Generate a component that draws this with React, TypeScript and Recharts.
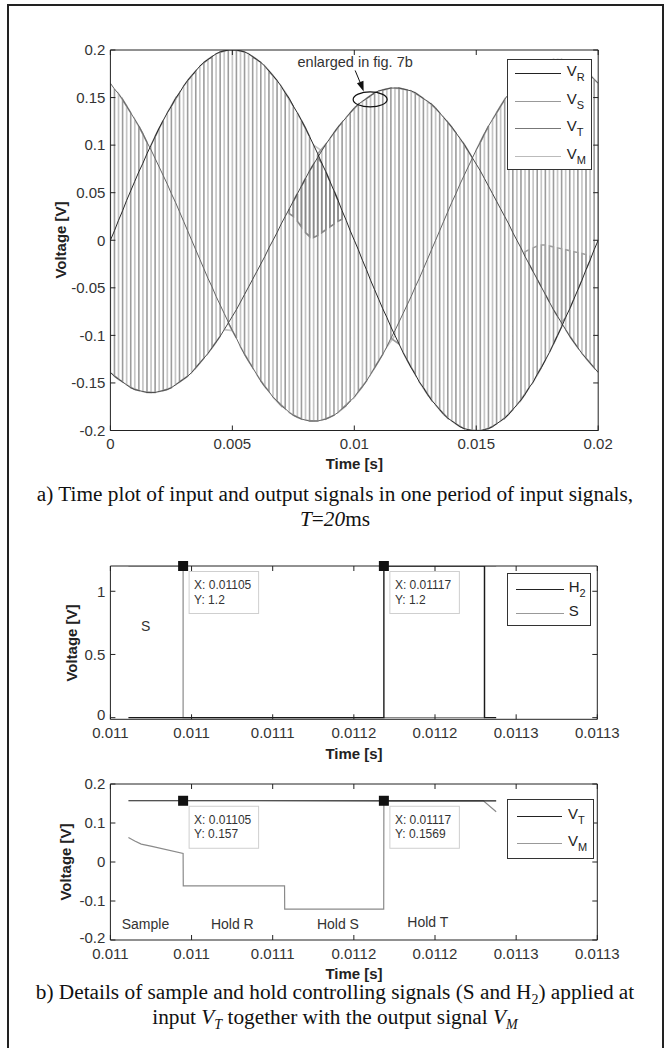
import React from 'react'
import { LineChart, Line, XAxis, YAxis, ReferenceDot } from 'recharts'

const SANS = '"Liberation Sans", Arial, Helvetica, sans-serif'
const SERIF = '"Liberation Serif", "Times New Roman", serif'
const AXIS = '#222'
const TICK_LEN = 5

// ---------- fig. a : one period of the three inputs (sampled every 3 deg) ----------
const SAMPLE_STEP = 0.02 / 120

const V_R = [
  0, 0.010, 0.021, 0.031, 0.042, 0.052, 0.062, 0.072, 0.081, 0.091, 0.100, 0.109, 0.118, 0.126, 0.134, 0.141,
  0.149, 0.155, 0.162, 0.168, 0.173, 0.178, 0.183, 0.187, 0.190, 0.193, 0.196, 0.198, 0.199, 0.200, 0.200,
  0.200, 0.199, 0.198, 0.196, 0.193, 0.190, 0.187, 0.183, 0.178, 0.173, 0.168, 0.162, 0.155, 0.149, 0.141,
  0.134, 0.126, 0.118, 0.109, 0.100, 0.091, 0.081, 0.072, 0.062, 0.052, 0.042, 0.031, 0.021, 0.010, 0,
  -0.010, -0.021, -0.031, -0.042, -0.052, -0.062, -0.072, -0.081, -0.091, -0.100, -0.109, -0.118, -0.126, -0.134, -0.141,
  -0.149, -0.155, -0.162, -0.168, -0.173, -0.178, -0.183, -0.187, -0.190, -0.193, -0.196, -0.198, -0.199, -0.200, -0.200,
  -0.200, -0.199, -0.198, -0.196, -0.193, -0.190, -0.187, -0.183, -0.178, -0.173, -0.168, -0.162, -0.155, -0.149, -0.141,
  -0.134, -0.126, -0.118, -0.109, -0.100, -0.091, -0.081, -0.072, -0.062, -0.052, -0.042, -0.031, -0.021, -0.010, 0,
]

const V_S = [
  0.165, 0.159, 0.154, 0.148, 0.141, 0.134, 0.127, 0.120, 0.112, 0.103, 0.095, 0.086, 0.077, 0.068, 0.059, 0.049,
  0.040, 0.030, 0.020, 0.010, 0,
  -0.010, -0.020, -0.030, -0.040, -0.049, -0.059, -0.068, -0.077, -0.086, -0.095, -0.103, -0.112, -0.120, -0.127, -0.134,
  -0.141, -0.148, -0.154, -0.159, -0.165, -0.169, -0.174, -0.177, -0.181, -0.184, -0.186, -0.188, -0.189, -0.190, -0.190,
  -0.190, -0.189, -0.188, -0.186, -0.184, -0.181, -0.177, -0.174, -0.169, -0.165, -0.159, -0.154, -0.148, -0.141, -0.134,
  -0.127, -0.120, -0.112, -0.103, -0.095, -0.086, -0.077, -0.068, -0.059, -0.049, -0.040, -0.030, -0.020, -0.010, 0,
  0.010, 0.020, 0.030, 0.040, 0.049, 0.059, 0.068, 0.077, 0.086, 0.095, 0.103, 0.112, 0.120, 0.127, 0.134,
  0.141, 0.148, 0.154, 0.159, 0.165, 0.169, 0.174, 0.177, 0.181, 0.184, 0.186, 0.188, 0.189, 0.190, 0.190,
  0.190, 0.189, 0.188, 0.186, 0.184, 0.181, 0.177, 0.174, 0.169, 0.165,
]

const V_T = [
  -0.139, -0.143, -0.146, -0.149, -0.152, -0.155, -0.157, -0.158, -0.159, -0.160, -0.160,
  -0.160, -0.159, -0.158, -0.157, -0.155, -0.152, -0.149, -0.146, -0.143, -0.139, -0.134, -0.129, -0.124, -0.119, -0.113,
  -0.107, -0.101, -0.094, -0.087, -0.080, -0.073, -0.065, -0.057, -0.049, -0.041, -0.033, -0.025, -0.017, -0.008, 0,
  0.008, 0.017, 0.025, 0.033, 0.041, 0.049, 0.057, 0.065, 0.073, 0.080, 0.087, 0.094, 0.101, 0.107, 0.113,
  0.119, 0.124, 0.129, 0.134, 0.139, 0.143, 0.146, 0.149, 0.152, 0.155, 0.157, 0.158, 0.159, 0.160, 0.160,
  0.160, 0.159, 0.158, 0.157, 0.155, 0.152, 0.149, 0.146, 0.143, 0.139, 0.134, 0.129, 0.124, 0.119, 0.113,
  0.107, 0.101, 0.094, 0.087, 0.080, 0.073, 0.065, 0.057, 0.049, 0.041, 0.033, 0.025, 0.017, 0.008, 0,
  -0.008, -0.017, -0.025, -0.033, -0.041, -0.049, -0.057, -0.065, -0.073, -0.080, -0.087, -0.094, -0.101, -0.107, -0.113,
  -0.119, -0.124, -0.129, -0.134, -0.139,
]

// darker V_M patches where the hold value sags away from the middle phase
const PATCH_1_START = 44
const PATCH_1_EDGE = [0.028, 0.025, 0.02, 0.014, 0.008, 0.004, 0.003, 0.005, 0.008, 0.011, 0.014, 0.017, 0.02, 0.022]
const PATCH_2_START = 102
const PATCH_2_EDGE = [-0.012, -0.01, -0.008, -0.006, -0.005, -0.005, -0.006, -0.007, -0.008, -0.009, -0.01, -0.011, -0.012, -0.013, -0.014, -0.015, -0.016]

const A_X_TICKS = [0, 0.005, 0.01, 0.015, 0.02]
const A_Y_TICKS = [-0.2, -0.15, -0.1, -0.05, 0, 0.05, 0.1, 0.15, 0.2]

// ---------- fig. b : detail around t = 11.1 ms ----------
const B_X_TICKS = [0.011, 0.01105, 0.0111, 0.01115, 0.0112, 0.01125, 0.0113]
const B_X_LABELS = ['0.011', '0.011', '0.0111', '0.0112', '0.0112', '0.0113', '0.0113']
const B1_Y_TICKS = [0, 0.5, 1]
const B2_Y_TICKS = [-0.2, -0.1, 0, 0.1, 0.2]

// S is high while sampling, H2 while holding T
const S_T = [0.0110111, 0.0110448, 0.0110448, 0.0112305, 0.0112305, 0.0112377]
const S_V = [1.2, 1.2, 0, 0, 1.2, 1.2]
const H2_T = [0.0110111, 0.0111685, 0.0111685, 0.0112305, 0.0112305, 0.0112377]
const H2_V = [0, 0, 1.2, 1.2, 0, 0]

const VT_DET_T = [0.0110111, 0.0111685, 0.0112377]
const VT_DET_V = [0.1571, 0.1569, 0.1568]
const VM_DET_T = [0.0110111, 0.011015, 0.011019, 0.0110256, 0.0110448, 0.0110449, 0.0111073, 0.0111074, 0.0111684, 0.0111685, 0.0112298, 0.0112377]
const VM_DET_V = [0.063, 0.054, 0.046, 0.04, 0.022, -0.061, -0.061, -0.121, -0.121, 0.1568, 0.1568, 0.129]

const TIPS_SH = [
  { t: 0.0110448, v: 1.2, text: ['X: 0.01105', 'Y: 1.2'] },
  { t: 0.0111685, v: 1.2, text: ['X: 0.01117', 'Y: 1.2'] },
]
const TIPS_VT = [
  { t: 0.0110448, v: 0.157, text: ['X: 0.01105', 'Y: 0.157'] },
  { t: 0.0111685, v: 0.157, text: ['X: 0.01117', 'Y: 0.1569'] },
]
const PHASE_NOTES = [
  { t: 0.0110216, v: -0.16, text: 'Sample' },
  { t: 0.0110751, v: -0.16, text: 'Hold R' },
  { t: 0.0111402, v: -0.16, text: 'Hold S' },
  { t: 0.0111956, v: -0.155, text: 'Hold T' },
]

// ---------- tables built from the arrays ----------
const A_TABLE = V_R.map((vr, i) => ({ t: i * SAMPLE_STEP, vr, vs: V_S[i], vt: V_T[i] }))

const middle = (r: { vr: number; vs: number; vt: number }) => [r.vr, r.vs, r.vt].sort((a, b) => a - b)[1]

function hatch(parity: number) {
  const pts: { t: number; v: number }[] = []
  let down = true
  for (let i = parity; i < A_TABLE.length; i += 2) {
    const r = A_TABLE[i]
    const hi = Math.max(r.vr, r.vs, r.vt)
    const lo = Math.min(r.vr, r.vs, r.vt)
    pts.push({ t: r.t, v: down ? hi : lo }, { t: r.t, v: down ? lo : hi })
    down = !down
  }
  return pts
}

function patch(start: number, edges: number[]) {
  const pts: { t: number; v: number }[] = []
  edges.forEach((edge, j) => {
    const r = A_TABLE[start + j]
    const mid = middle(r)
    if (j % 2 === 0) pts.push({ t: r.t, v: mid }, { t: r.t, v: edge })
    else pts.push({ t: r.t, v: edge }, { t: r.t, v: mid })
  })
  return pts
}

const pairs = (ts: number[], vs: number[]) => ts.map((t, i) => ({ t, v: vs[i] }))

const HATCH_LIGHT = hatch(0)
const HATCH_DARK = hatch(1)
const PATCH_1 = patch(PATCH_1_START, PATCH_1_EDGE)
const PATCH_2 = patch(PATCH_2_START, PATCH_2_EDGE)

// ---------- drawing helpers ----------
function InTick(props: any) {
  const { x, y, payload, index, side, labels, liftFirst } = props
  const text = labels ? labels[index] : String(payload.value)
  const font = { fontFamily: SANS, fontSize: 15, fill: '#333' }
  if (side === 'bottom')
    return (
      <g>
        <line x1={x} y1={y} x2={x} y2={y - TICK_LEN} stroke={AXIS} />
        <text x={x} y={y + 18.6} textAnchor="middle" {...font}>{text}</text>
      </g>
    )
  if (side === 'left') {
    // the corner label is nudged up so it clears the first time label
    const lift = liftFirst && index === 0 ? 2.6 : 0
    return (
      <g>
        <line x1={x} y1={y} x2={x + TICK_LEN} y2={y} stroke={AXIS} />
        <text x={x - 5} y={y + 5.3 - lift} textAnchor="end" {...font}>{text}</text>
      </g>
    )
  }
  if (side === 'top') return <line x1={x} y1={y} x2={x} y2={y + TICK_LEN} stroke={AXIS} />
  return <line x1={x} y1={y} x2={x - TICK_LEN} y2={y} stroke={AXIS} />
}

// four one-pixel axes close the plot box, ticks point inward
function frameAxes(xDomain: number[], xTicks: number[], yDomain: number[], yTicks: number[], xLabels?: string[]) {
  const common = { type: 'number' as const, interval: 0 as const, tickSize: 0, tickMargin: 0, allowDataOverflow: true, axisLine: { stroke: AXIS }, tickLine: false }
  return [
    <XAxis key="xb" xAxisId="b" dataKey="t" domain={xDomain} ticks={xTicks} height={1} tick={<InTick side="bottom" labels={xLabels} />} {...common} />,
    <XAxis key="xt" xAxisId="t" orientation="top" dataKey="t" domain={xDomain} ticks={xTicks} height={1} tick={<InTick side="top" />} {...common} />,
    <YAxis key="yl" yAxisId="l" domain={yDomain} ticks={yTicks} width={1} tick={<InTick side="left" liftFirst={!!xLabels} />} {...common} />,
    <YAxis key="yr" yAxisId="r" orientation="right" domain={yDomain} ticks={yTicks} width={1} tick={<InTick side="right" />} {...common} />,
  ]
}

const seriesProps = { xAxisId: 'b', yAxisId: 'l', type: 'linear' as const, dot: false, activeDot: false, isAnimationActive: false, dataKey: 'v' }

function Datatip({ cx, cy, text }: any) {
  const font = { fontFamily: SANS, fontSize: 12, fill: '#333' }
  return (
    <g>
      <rect x={cx + 6} y={cy + 5.5} width={69.5} height={42} fill="#fff" stroke="#cfcfcf" />
      <rect x={cx - 5} y={cy - 5} width={10} height={10} fill="#111" />
      <text x={cx + 11} y={cy + 23.3} {...font}>{text[0]}</text>
      <text x={cx + 11} y={cy + 37.6} {...font}>{text[1]}</text>
    </g>
  )
}

function Note({ cx, cy, text }: any) {
  return (
    <text x={cx} y={cy + 5} textAnchor="middle" fontFamily={SANS} fontSize={14} fill="#333">{text}</text>
  )
}

function Enlarged({ cx, cy }: any) {
  return (
    <g>
      <ellipse cx={cx} cy={cy} rx={17} ry={7.5} fill="none" stroke="#111" strokeWidth={1.2} />
      <line x1={cx - 15} y1={cy - 29} x2={cx - 10} y2={cy - 17} stroke="#111" />
      <path d={`M ${cx - 6.5} ${cy - 8} L ${cx - 6.7} ${cy - 18.6} L ${cx - 13.2} ${cy - 16.2} Z`} fill="#111" />
      <text x={cx - 15} y={cy - 32.5} textAnchor="middle" fontFamily={SANS} fontSize={14.5} fill="#333">enlarged in fig. 7b</text>
    </g>
  )
}

function LegendBox({ left, top, width, height, items }: any) {
  return (
    <div style={{ position: 'absolute', left, top, width, height, boxSizing: 'border-box', border: '1px solid #333', background: '#fff', fontFamily: SANS }}>
      {items.map((it: any) => (
        <React.Fragment key={it.name + it.sub}>
          <div style={{ position: 'absolute', left: it.x0, width: it.x1 - it.x0, top: it.y, height: 1, background: it.color }} />
          <div style={{ position: 'absolute', left: it.tx, top: it.y - 11, fontSize: 15, lineHeight: '18px', color: '#222', whiteSpace: 'nowrap' }}>
            {it.name}
            {it.sub && <span style={{ fontSize: 11, position: 'relative', top: 5 }}>{it.sub}</span>}
          </div>
        </React.Fragment>
      ))}
    </div>
  )
}

function Title({ x, y, text, rotate }: { x: number; y: number; text: string; rotate?: boolean }) {
  return (
    <div style={{ position: 'absolute', left: x, top: y, transform: `translate(-50%, -50%)${rotate ? ' rotate(-90deg)' : ''}`, fontFamily: SANS, fontWeight: 700, fontSize: 15, color: '#222', whiteSpace: 'nowrap' }}>
      {text}
    </div>
  )
}

const captionStyle: React.CSSProperties = { position: 'absolute', left: 7, width: 656, textAlign: 'center', fontFamily: SERIF, fontSize: 21.3, lineHeight: '25px', color: '#111', whiteSpace: 'nowrap' }
const subStyle: React.CSSProperties = { fontSize: 14, lineHeight: 0 }

const B_X_DOMAIN = [0.011, 0.0113]

export default function App() {
  return (
    <div style={{ position: 'absolute', left: 0, top: 0, width: 671, height: 1048, overflow: 'hidden', background: '#fff' }}>
      <div style={{ position: 'absolute', left: 6.7, top: 4, width: 653.3, height: 1100, border: '2px solid #222' }} />

      {/* fig. a */}
      <div style={{ position: 'absolute', left: 0, top: 0 }}>
        <LineChart width={671} height={480} margin={{ top: 49, right: 71.8, bottom: 48.5, left: 109.4 }}>
          {frameAxes([0, 0.02], A_X_TICKS, [-0.2, 0.2], A_Y_TICKS)}
          <Line {...seriesProps} data={HATCH_LIGHT} stroke="#c6c6c6" strokeWidth={1.7} />
          <Line {...seriesProps} data={HATCH_DARK} stroke="#9c9c9c" strokeWidth={1.6} />
          <Line {...seriesProps} data={PATCH_1} stroke="#8a8a8a" strokeWidth={1.7} />
          <Line {...seriesProps} data={PATCH_2} stroke="#a0a0a0" strokeWidth={1.5} />
          <Line {...seriesProps} data={A_TABLE} dataKey="vs" stroke="#666" strokeWidth={1} />
          <Line {...seriesProps} data={A_TABLE} dataKey="vt" stroke="#4a4a4a" strokeWidth={1} />
          <Line {...seriesProps} data={A_TABLE} dataKey="vr" stroke="#2a2a2a" strokeWidth={1} />
          <ReferenceDot xAxisId="b" yAxisId="l" x={0.01065} y={0.148} ifOverflow="visible" shape={(p: any) => <Enlarged {...p} />} />
        </LineChart>
      </div>
      <LegendBox left={506.7} top={59} width={85.6} height={111} items={[
        { name: 'V', sub: 'R', color: '#222', x0: 7.6, x1: 53.3, tx: 59, y: 13 },
        { name: 'V', sub: 'S', color: '#999', x0: 7.6, x1: 53.3, tx: 59, y: 40.5 },
        { name: 'V', sub: 'T', color: '#777', x0: 7.6, x1: 53.3, tx: 59, y: 68 },
        { name: 'V', sub: 'M', color: '#bbb', x0: 7.6, x1: 53.3, tx: 59, y: 95.5 },
      ]} />
      <Title x={60} y={240.3} text="Voltage [V]" rotate />
      <Title x={354.3} y={462.7} text="Time [s]" />
      <div style={{ ...captionStyle, top: 481.5 }}>
        a) Time plot of input and output signals in one period of input signals,<br />
        <i>T</i>=<i>20</i>ms
      </div>

      {/* fig. b, upper: control signals */}
      <div style={{ position: 'absolute', left: 0, top: 530 }}>
        <LineChart width={671} height={230} margin={{ top: 35, right: 72.7, bottom: 39.7, left: 109.4 }}>
          {frameAxes(B_X_DOMAIN, B_X_TICKS, [-0.013, 1.2], B1_Y_TICKS, B_X_LABELS)}
          <Line {...seriesProps} data={pairs(S_T, S_V)} stroke="#8a8a8a" strokeWidth={1.2} />
          <Line {...seriesProps} data={pairs(H2_T, H2_V)} stroke="#1a1a1a" strokeWidth={1.4} />
          <ReferenceDot xAxisId="b" yAxisId="l" x={0.0110217} y={0.7255} ifOverflow="visible" shape={(p: any) => <Note {...p} text="S" />} />
          {TIPS_SH.map((d) => (
            <ReferenceDot key={d.text[0]} xAxisId="b" yAxisId="l" x={d.t} y={d.v} ifOverflow="visible" shape={(p: any) => <Datatip {...p} text={d.text} />} />
          ))}
        </LineChart>
      </div>
      <LegendBox left={506.7} top={573.3} width={84} height={52.4} items={[
        { name: 'H', sub: '2', color: '#222', x0: 8.3, x1: 56, tx: 61, y: 15 },
        { name: 'S', sub: '', color: '#999', x0: 8.3, x1: 56, tx: 61, y: 39 },
      ]} />
      <Title x={70.6} y={642.7} text="Voltage [V]" rotate />
      <Title x={354} y={752.7} text="Time [s]" />

      {/* fig. b, lower: V_T and output V_M */}
      <div style={{ position: 'absolute', left: 0, top: 760 }}>
        <LineChart width={671} height={240} margin={{ top: 23, right: 72.7, bottom: 59, left: 109.4 }}>
          {frameAxes(B_X_DOMAIN, B_X_TICKS, [-0.2, 0.2], B2_Y_TICKS, B_X_LABELS)}
          <Line {...seriesProps} data={pairs(VM_DET_T, VM_DET_V)} stroke="#8a8a8a" strokeWidth={1.2} />
          <Line {...seriesProps} data={pairs(VT_DET_T, VT_DET_V)} stroke="#1a1a1a" strokeWidth={1.2} />
          {PHASE_NOTES.map((d) => (
            <ReferenceDot key={d.text} xAxisId="b" yAxisId="l" x={d.t} y={d.v} ifOverflow="visible" shape={(p: any) => <Note {...p} text={d.text} />} />
          ))}
          {TIPS_VT.map((d) => (
            <ReferenceDot key={d.text[0]} xAxisId="b" yAxisId="l" x={d.t} y={d.v} ifOverflow="visible" shape={(p: any) => <Datatip {...p} text={d.text} />} />
          ))}
        </LineChart>
      </div>
      <LegendBox left={507} top={799.3} width={87} height={60} items={[
        { name: 'V', sub: 'T', color: '#222', x0: 8.6, x1: 54.4, tx: 60, y: 15.7 },
        { name: 'V', sub: 'M', color: '#999', x0: 8.6, x1: 54.4, tx: 60, y: 42.4 },
      ]} />
      <Title x={65} y={862} text="Voltage [V]" rotate />
      <Title x={354} y={972.5} text="Time [s]" />
      <div style={{ ...captionStyle, top: 979.5 }}>
        b) Details of sample and hold controlling signals (S and H<sub style={subStyle}>2</sub>) applied at<br />
        input <i>V<sub style={subStyle}>T</sub></i> together with the output signal <i>V<sub style={subStyle}>M</sub></i>
      </div>
    </div>
  )
}
